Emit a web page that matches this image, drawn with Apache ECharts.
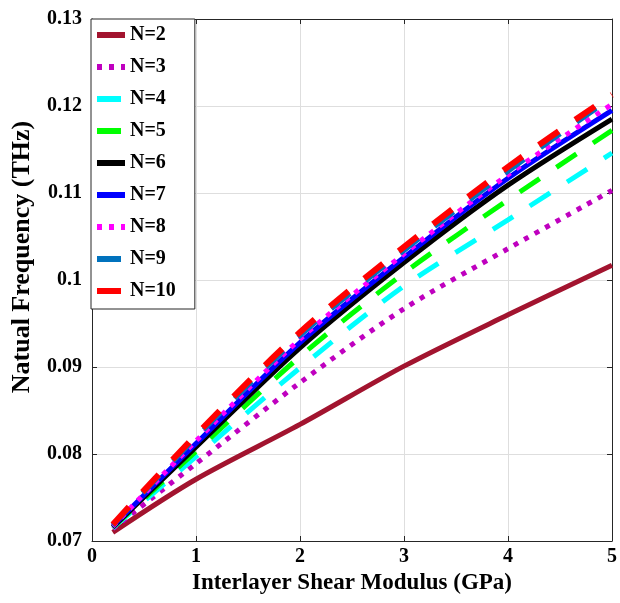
<!DOCTYPE html>
<html><head><meta charset="utf-8">
<script src="https://cdn.jsdelivr.net/npm/echarts@6/dist/echarts.min.js"></script>
<style>html,body{margin:0;padding:0;background:#fff}#c{width:620px;height:603px}</style>
</head><body><div id="c"></div>
<script>
const xVals = [0.2, 1, 2, 3, 4, 5];
const n2  = [0.0710, 0.0771, 0.0834, 0.0901, 0.0960, 0.1017];
const n3  = [0.0714, 0.0789, 0.0882, 0.0967, 0.1036, 0.1103];
const n4  = [0.0715, 0.0797, 0.0899, 0.0993, 0.1069, 0.1146];
const n5  = [0.0716, 0.0803, 0.0912, 0.1008, 0.1092, 0.1172];
const n6  = [0.0716, 0.0808, 0.0922, 0.1020, 0.1109, 0.1185];
const n7  = [0.0717, 0.0812, 0.0928, 0.1026, 0.1117, 0.1195];
const n8  = [0.0717, 0.0815, 0.0932, 0.1030, 0.1121, 0.1202];
const n9  = [0.0718, 0.0819, 0.0936, 0.1034, 0.1125, 0.1210];
const n10 = [0.0719, 0.0822, 0.0940, 0.1038, 0.1130, 0.1213];
const seriesNames = ['N=2','N=3','N=4','N=5','N=6','N=7','N=8','N=9','N=10'];
const seriesValues = [n2, n3, n4, n5, n6, n7, n8, n9, n10];
const xTicks = ['0','1','2','3','4','5'];
const yTicks = ['0.07','0.08','0.09','0.1','0.11','0.12','0.13'];

const styles = [
  {color:'#A2142F', width:5, type:'solid'},
  {color:'#BF00BF', width:5, type:[5,7]},
  {color:'#00FFFF', width:5, type:[24,20]},
  {color:'#00FF00', width:5, type:[24,20]},
  {color:'#000000', width:5, type:'solid'},
  {color:'#0000FF', width:5, type:'solid'},
  {color:'#FF00FF', width:5, type:[5,7]},
  {color:'#0072BD', width:5, type:[24,20]},
  {color:'#FF0000', width:6, type:[24,20]}
];
const font = 'Liberation Serif';
const chart = echarts.init(document.getElementById('c'), null, {renderer:'canvas'});
const series = seriesNames.map((nm, i) => ({
  name: nm, type: 'line', xAxisIndex: 0, yAxisIndex: 0,
  data: xVals.map((x, j) => [x, seriesValues[i][j]]),
  symbol: 'none', smooth: 0.3, animation: false,
  lineStyle: {color: styles[i].color, width: styles[i].width, type: styles[i].type, cap: 'butt'},
  itemStyle: {color: styles[i].color}
}));
const axisCommon = {
  axisLine: {show: true, onZero: false, lineStyle: {color: '#262626', width: 1}},
  axisTick: {show: true, inside: true, length: 5, lineStyle: {color: '#262626'}}
};
chart.setOption({
  animation: false,
  grid: {left: 92, right: 6, top: 19, bottom: 62, show: false},
  legend: {
    orient: 'vertical', left: 91, top: 19,
    data: seriesNames,
    itemWidth: 28, itemHeight: 6, itemGap: 12,
    padding: [6, 19, 8, 3],
    itemStyle: {opacity: 0},
    lineStyle: {width: 6},
    backgroundColor: '#fff', borderColor: '#262626', borderWidth: 1,
    textStyle: {fontFamily: font, fontWeight: 'bold', fontSize: 20, color: '#000', lineHeight: 20}
  },
  xAxis: [
    Object.assign({type: 'value', min: 0, max: 5, interval: 1, position: 'bottom',
      name: 'Interlayer Shear Modulus (GPa)', nameLocation: 'middle', nameGap: 31,
      nameTextStyle: {fontFamily: font, fontWeight: 'bold', fontSize: 23, color: '#000'},
      axisLabel: {fontFamily: font, fontWeight: 'bold', fontSize: 20, color: '#000', margin: 6,
        formatter: (v) => xTicks[Math.round(v)]},
      splitLine: {show: true, lineStyle: {color: '#dedede', width: 1}}}, axisCommon),
    Object.assign({type: 'value', min: 0, max: 5, interval: 1, position: 'top',
      axisLabel: {show: false}, splitLine: {show: false}}, axisCommon)
  ],
  yAxis: [
    Object.assign({type: 'value', min: 0.07, max: 0.13, interval: 0.01, position: 'left',
      name: 'Natual Frequency (THz)', nameLocation: 'middle', nameGap: 57,
      nameTextStyle: {fontFamily: font, fontWeight: 'bold', fontSize: 26, color: '#000',
        padding: [0, 0, 0, 46]},
      axisLabel: {fontFamily: font, fontWeight: 'bold', fontSize: 20, color: '#000', margin: 10,
        formatter: (v) => yTicks[Math.round((v - 0.07) / 0.01)]},
      splitLine: {show: true, lineStyle: {color: '#dedede', width: 1}}}, axisCommon),
    Object.assign({type: 'value', min: 0.07, max: 0.13, interval: 0.01, position: 'right',
      axisLabel: {show: false}, splitLine: {show: false}}, axisCommon)
  ],
  series: series
});
</script></body></html>
